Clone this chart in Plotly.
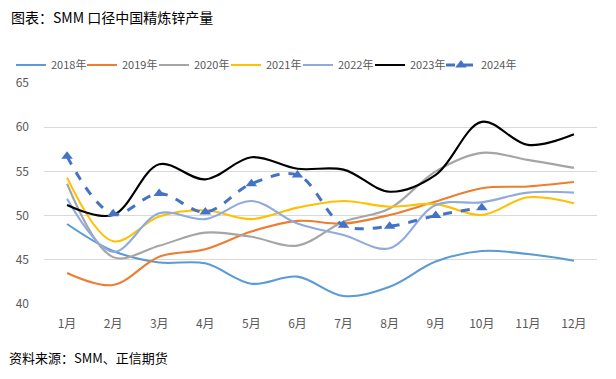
import plotly.graph_objects as go

months = ["1月", "2月", "3月", "4月", "5月", "6月", "7月", "8月", "9月", "10月", "11月", "12月"]
s2018 = [49.05, 46.0, 44.7, 44.6, 42.3, 43.1, 40.9, 41.95, 44.8, 46.0, 45.65, 44.9]
s2019 = [43.5, 42.15, 45.35, 46.2, 48.2, 49.4, 49.1, 50.07, 51.6, 53.1, 53.3, 53.8]
s2020 = [53.6, 45.3, 46.6, 48.07, 47.6, 46.6, 49.3, 50.8, 55.0, 57.1, 56.3, 55.4]
s2021 = [54.3, 47.1, 49.9, 50.6, 49.6, 50.9, 51.65, 51.0, 51.3, 50.07, 52.07, 51.4]
s2022 = [51.9, 45.9, 50.26, 49.6, 51.65, 49.1, 47.8, 46.3, 51.2, 51.5, 52.6, 52.6]
s2023 = [51.2, 50.07, 55.8, 54.1, 56.6, 55.3, 55.2, 52.7, 54.6, 60.6, 58.0, 59.2]
s2024 = [56.7, 50.2, 52.5, 50.4, 53.6, 54.6, 48.9, 48.8, 50.0, 50.9]

series = [
    ("2018年", s2018, "#5B9BD5"),
    ("2019年", s2019, "#ED7D31"),
    ("2020年", s2020, "#A5A5A5"),
    ("2021年", s2021, "#FFC000"),
    ("2022年", s2022, "#8FAADC"),
    ("2023年", s2023, "#000000"),
]

# page body has an 8px margin: figure occupies window px 8..616 x 8..379
OFF = 8
L, R, T, B = 44, 597, 83, 304  # plot area in window pixels
W, H = 616 - OFF, 379 - OFF
PW, PH = R - L, B - T


def px(xw):
    return (xw - L) / PW


def py(yw):
    return (B - yw) / PH


legend_starts = [17, 88, 160, 232, 304, 376, 447]  # window px where each legend sample line starts
legend_names = ["legend"] + ["legend%d" % i for i in range(2, 8)]

fig = go.Figure()
for i, (name, vals, color) in enumerate(series):
    fig.add_trace(go.Scatter(
        x=months[:len(vals)], y=vals, name=name, mode="lines",
        line=dict(color=color, width=2.1, shape="spline", smoothing=1.0),
        legend=legend_names[i],
    ))
fig.add_trace(go.Scatter(
    x=months[:len(s2024)], y=s2024, name="2024年", mode="lines+markers",
    line=dict(color="#4472C4", width=3, dash="dash", shape="spline", smoothing=1.0),
    marker=dict(symbol="triangle-up", size=10, color="#4472C4"),
    legend=legend_names[6],
))

font_cjk = "Noto Sans CJK SC, Microsoft YaHei, sans-serif"
fig.update_layout(
    width=W, height=H,
    margin=dict(l=L - OFF, r=616 - R, t=T - OFF, b=379 - B, autoexpand=False),
    paper_bgcolor="white", plot_bgcolor="white",
    font=dict(family=font_cjk, size=12, color="#595959"),
    showlegend=True,
    xaxis=dict(type="category", categoryorder="array", categoryarray=months,
               range=[-0.5, 11.5], showgrid=False, zeroline=False,
               showline=False, ticks="", tickfont=dict(size=12, color="#595959"),
               ticklabelstandoff=11),
    yaxis=dict(range=[40, 65], dtick=5, showgrid=True, gridcolor="#D9D9D9",
               gridwidth=1, zeroline=False, showline=False, ticks="",
               tickfont=dict(size=12, color="#595959"), ticklabelstandoff=14),
)
for lname, xs in zip(legend_names, legend_starts):
    fig.update_layout({lname: dict(
        orientation="h", x=px(xs - 6), xref="paper", xanchor="left",
        y=py(65), yref="paper", yanchor="middle",
        font=dict(size=11, color="#595959"), itemwidth=30,
        bgcolor="rgba(0,0,0,0)", borderwidth=0)})

fig.add_annotation(text="图表：SMM 口径中国精炼锌产量", xref="paper", yref="paper",
                   x=px(9), y=py(17), xanchor="left", yanchor="middle",
                   showarrow=False, font=dict(family=font_cjk, size=14, color="#000000"))
fig.add_annotation(text="资料来源：SMM、正信期货", xref="paper", yref="paper",
                   x=px(7), y=py(357), xanchor="left", yanchor="middle",
                   showarrow=False, font=dict(family=font_cjk, size=13, color="#000000"))

fig.write_html("out.html")
